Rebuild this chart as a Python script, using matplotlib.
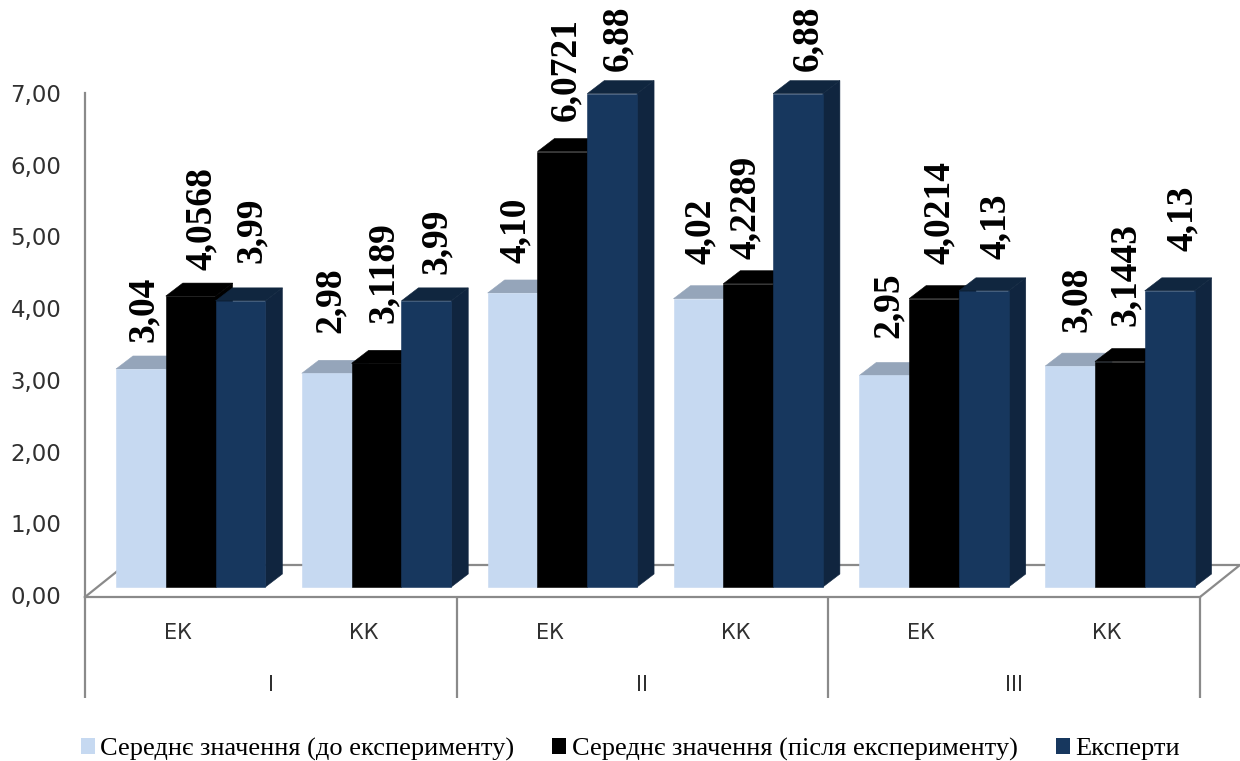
import numpy as np
import matplotlib
matplotlib.use("Agg")
import matplotlib.pyplot as plt
from matplotlib.patches import Polygon, Patch

# values
series_names = ["Середнє значення (до експерименту)",
                "Середнє значення (після експерименту)",
                "Експерти"]
before = [3.04, 2.98, 4.10, 4.02, 2.95, 3.08]
after = [4.0568, 3.1189, 6.0721, 4.2289, 4.0214, 3.1443]
experts = [3.99, 3.99, 6.88, 6.88, 4.13, 4.13]
before_text = ["3,04", "2,98", "4,10", "4,02", "2,95", "3,08"]
after_text = ["4,0568", "3,1189", "6,0721", "4,2289", "4,0214", "3,1443"]
experts_text = ["3,99", "3,99", "6,88", "6,88", "4,13", "4,13"]
categories = ["ЕК", "КК", "ЕК", "КК", "ЕК", "КК"]
groups = ["I", "II", "III"]

# label offsets from the bar top, in pixels (the original was placed by hand)
before_gap = [27, 40, 30, 35, 37, 34]
after_gap = [26, 40, 31, 25, 35, 36]
experts_gap = [38, 27, 23, 23, 32, 40]
before_shift = [3, 4, 3, 2, 4, 6]
after_shift = [11, 7, 3, -3, 5, 6]
experts_shift = [11, 10, 6, 10, 12, 13]

# front colour, top colour, side colour
colors = [("#C6D9F1", "#95A5BA", "#95A5BA"),
          ("#000000", "#000000", "#000000"),
          ("#17375E", "#10263F", "#10253F")]

W, H = 1240, 761
GREY = "#8A8A8A"
SERIF = "Liberation Serif"

fig = plt.figure(figsize=(W / 100, H / 100), dpi=100)
ax = fig.add_axes([85 / W, 1 - 597 / H, (1200 - 85) / W, (597 - 93) / H])
ax.set_xlim(0, 6)
ax.set_ylim(-2 / 71.7, 7)

px_x = 6 / (1200 - 85)  # one pixel in x data units
px_y = 7 / 502          # one pixel in y data units

bar_w = 49.8 * px_x
lead = 31 * px_x
lift = 8 * px_y
depth_x = 17 * px_x
depth_y = 13 * px_y

# floor of the 3D box
ylo = ax.get_ylim()[0]
back_x = 40 * px_x
back_y = 30 * px_y
ax.plot([0, back_x, 6 + back_x, 6], [ylo, back_y, back_y, ylo],
        color=GREY, lw=1.6, clip_on=False, zorder=1)

# bars, left to right so each one covers the side of the previous one
cat_x = np.arange(6)
all_values = [before, after, experts]
all_text = [before_text, after_text, experts_text]
all_gap = [before_gap, after_gap, experts_gap]
all_shift = [before_shift, after_shift, experts_shift]
for c in cat_x:
    for s in range(3):
        v = all_values[s][c]
        front, top, side = colors[s]
        x0 = c + lead + s * bar_w
        y1 = lift + v
        ax.add_patch(Polygon([(x0 + bar_w, lift), (x0 + bar_w + depth_x, lift + depth_y),
                              (x0 + bar_w + depth_x, y1 + depth_y), (x0 + bar_w, y1)],
                             fc=side, ec=side, lw=0.4, zorder=2, clip_on=False))
        ax.add_patch(Polygon([(x0, y1), (x0 + depth_x, y1 + depth_y),
                              (x0 + bar_w + depth_x, y1 + depth_y), (x0 + bar_w, y1)],
                             fc=top, ec=top, lw=0.4, zorder=2, clip_on=False))
        ax.bar(x0, v, width=bar_w, bottom=lift, align="edge", color=front,
               ec=front, lw=0.4, zorder=2, clip_on=False)
        ax.annotate(all_text[s][c], xy=(x0 + bar_w / 2, y1),
                    xytext=(all_shift[s][c], all_gap[s][c]), textcoords="offset pixels",
                    rotation=90, ha="center", va="bottom", fontsize=27,
                    fontweight="bold", family=SERIF, color="black", zorder=5)

# axes
for name in ["top", "right"]:
    ax.spines[name].set_visible(False)
for name in ["left", "bottom"]:
    ax.spines[name].set_color(GREY)
    ax.spines[name].set_linewidth(1.6)

ax.set_yticks(np.arange(0, 8))
ax.set_yticklabels(["%d,00" % v for v in range(8)], fontsize=16.5, color="#303030")
ax.tick_params(axis="y", length=0, pad=17)

ax.set_xticks(cat_x + 0.5)
ax.set_xticklabels(categories, fontsize=15, color="#303030")
ax.set_xticks([1, 3, 5], minor=True)
ax.set_xticklabels(groups, minor=True, fontsize=15, color="#303030")
ax.tick_params(axis="x", which="major", length=0, pad=19)
ax.tick_params(axis="x", which="minor", length=0, pad=56)

# separators between the three groups
ax.vlines([0, 2, 4, 6], -103 * px_y, ylo, color=GREY, lw=1.6, clip_on=False)

handles = [Patch(fc=c[0], ec="none") for c in colors]
fig.legend(handles, series_names, loc="center left", bbox_to_anchor=(81 / W, 1 - 749 / H),
           ncol=3, frameon=False, handlelength=0.53, handleheight=0.53,
           handletextpad=0.2, columnspacing=1.44, borderpad=0, borderaxespad=0,
           prop={"family": SERIF, "size": 19})

fig.savefig("out.png", dpi=100)
